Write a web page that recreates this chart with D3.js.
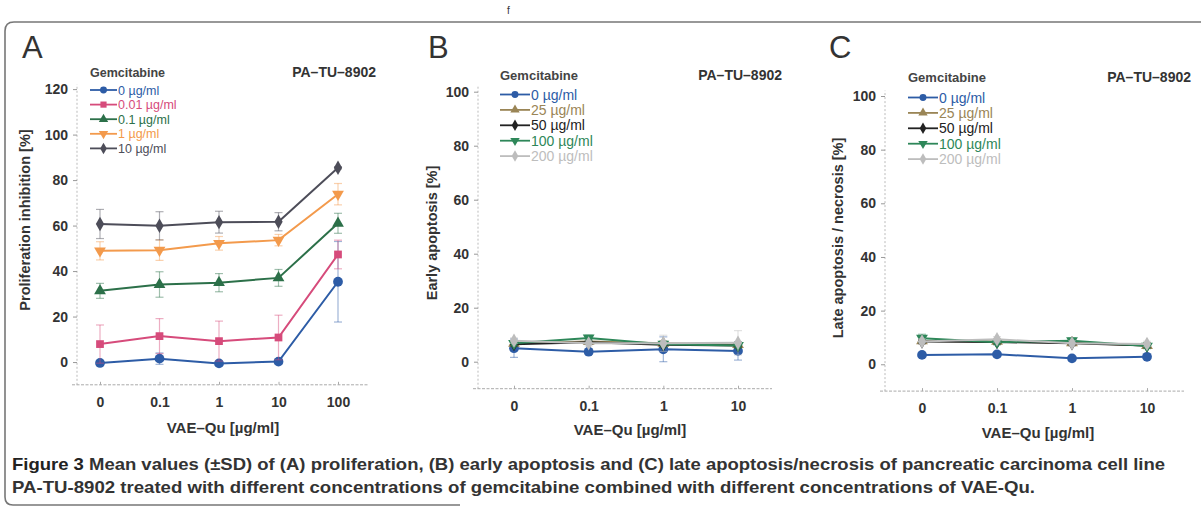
<!DOCTYPE html>
<html>
<head>
<meta charset="utf-8">
<script src="https://cdn.jsdelivr.net/npm/d3@7"></script>
<style>
  body { margin: 0; background: #fff; }
  svg { display: block; }
  text { font-family: "Liberation Sans", Arial, sans-serif; }
</style>
</head>
<body>
<div id="chart"></div>
<script>
// categories on the x axis (VAE-Qu concentration)
var catsA = ["0", "0.1", "1", "10", "100"];
var catsBC = ["0", "0.1", "1", "10"];

// panel A: proliferation inhibition [%], one series per gemcitabine dose
var labelsA = ["0 µg/ml", "0.01 µg/ml", "0.1 µg/ml", "1 µg/ml", "10 µg/ml"];
var meanA = [
  [-0.4, 1.5, -0.6, 0.2, 35.3],
  [7.9, 11.4, 9.2, 10.8, 47.3],
  [31.3, 34.1, 34.9, 37.0, 61.0],
  [48.9, 49.2, 52.2, 53.6, 73.8],
  [60.7, 59.9, 61.5, 61.7, 85.4]
];
var sdA = [
  [1.0, 2.5, 1.0, 1.0, 17.7],
  [8.4, 7.7, 8.8, 9.8, 6.3],
  [3.3, 5.6, 4.0, 3.7, 4.4],
  [4.0, 4.5, 3.0, 2.5, 4.7],
  [6.4, 6.2, 4.8, 4.0, 0.5]
];

// panels B and C: gemcitabine doses
var labelsBC = ["0 µg/ml", "25 µg/ml", "50 µg/ml", "100 µg/ml", "200 µg/ml"];
var meanB = [
  [5.0, 3.7, 4.6, 4.0],
  [6.8, 7.5, 6.8, 6.3],
  [6.5, 7.2, 6.3, 6.0],
  [6.8, 8.8, 6.5, 6.0],
  [7.8, 6.8, 6.8, 7.0]
];
var sdB = [
  [3.4, 1.0, 4.6, 3.4],
  [1.0, 1.0, 1.0, 1.0],
  [0.8, 0.8, 0.8, 0.8],
  [1.0, 1.0, 1.0, 1.0],
  [1.0, 1.0, 3.0, 4.5]
];
var meanC = [
  [3.5, 3.7, 2.2, 2.8],
  [8.7, 8.5, 8.0, 7.0],
  [8.5, 8.3, 7.8, 7.0],
  [9.7, 8.2, 8.8, 6.8],
  [8.5, 9.3, 7.8, 7.6]
];
var sdC = [
  [0.5, 0.5, 0.5, 0.5],
  [1.0, 1.0, 1.0, 1.0],
  [0.8, 0.8, 0.8, 0.8],
  [1.5, 1.0, 1.0, 1.0],
  [1.0, 1.0, 1.0, 1.0]
];

var ticksA = [0, 20, 40, 60, 80, 100, 120];
var ticksBC = [0, 20, 40, 60, 80, 100];

var W = 1201, H = 508;

var svg = d3.select("#chart").append("svg")
  .attr("width", W)
  .attr("height", H);

// frame of the scanned figure
svg.append("path")
  .attr("d", "M " + (W + 2) + " 22 H 14 Q 5 22 5 31 V 497 Q 5 505 13 505 H 460")
  .attr("fill", "none")
  .attr("stroke", "#777")
  .attr("stroke-width", 1.6);
svg.append("text").attr("x", 507).attr("y", 14)
  .attr("font-size", 10).attr("fill", "#333").text("f");

var colorsA = ["#2d5ca6", "#d64b7b", "#2c7049", "#f39a4c", "#4d4d59"];
var shapesA = [d3.symbolCircle, d3.symbolSquare, "up", "down", d3.symbolDiamond];
var colorsBC = ["#2d5ca6", "#9a8556", "#222222", "#2e8759", "#bdbdbd"];
var shapesBC = [d3.symbolCircle, "up", d3.symbolDiamond, "down", d3.symbolDiamond];

function markerPath(shape, size) {
  if (shape === "up") return d3.symbol(d3.symbolTriangle, size)();
  if (shape === "down") return d3.symbol(d3.symbolTriangle, size)();
  return d3.symbol(shape, size)();
}
function markerRot(shape) {
  return shape === "down" ? " rotate(180)" : "";
}

function drawPanel(cfg) {
  var g = svg.append("g");

  var x = d3.scalePoint().domain(cfg.cats).range(cfg.xr);
  var y = d3.scaleLinear().domain([-10, cfg.ymax]).range(cfg.yr);

  // panel letter
  g.append("text")
    .attr("x", cfg.letterX).attr("y", 58)
    .attr("font-size", 31).attr("fill", "#333")
    .text(cfg.letter);

  // faint axes
  g.append("line")
    .attr("x1", cfg.axisX).attr("x2", cfg.axisX)
    .attr("y1", y(-10)).attr("y2", y(cfg.yTop))
    .attr("stroke", "#bbb").attr("stroke-dasharray", "2,2");
  g.append("line")
    .attr("x1", cfg.axisX - 5).attr("x2", cfg.axisEnd)
    .attr("y1", y(-10)).attr("y2", y(-10))
    .attr("stroke", "#aaa").attr("stroke-dasharray", "3,1.5");

  var yAxis = g.append("g")
    .attr("transform", "translate(" + cfg.axisX + ",0)")
    .call(d3.axisLeft(y).tickValues(cfg.ticks).tickSize(4).tickPadding(5));
  yAxis.select(".domain").remove();
  yAxis.selectAll(".tick line").attr("stroke", "#999");
  yAxis.selectAll(".tick text")
    .attr("font-size", 14).attr("font-weight", "bold").attr("fill", "#333")
    .style("font-family", "Liberation Sans, Arial, sans-serif");

  var xAxis = g.append("g")
    .attr("transform", "translate(0," + y(-10) + ")")
    .call(d3.axisBottom(x).tickSize(-3).tickPadding(12));
  xAxis.select(".domain").remove();
  xAxis.selectAll(".tick line").attr("stroke", "#aaa");
  xAxis.selectAll(".tick text")
    .attr("font-size", 14).attr("font-weight", "bold").attr("fill", "#333")
    .style("font-family", "Liberation Sans, Arial, sans-serif");

  // axis titles
  g.append("text")
    .attr("transform", "translate(" + cfg.yTitleX + "," + cfg.yTitleY + ") rotate(-90)")
    .attr("text-anchor", "middle")
    .attr("font-size", 14.5).attr("font-weight", "bold").attr("fill", "#333")
    .text(cfg.yTitle);
  g.append("text")
    .attr("x", cfg.xTitleX).attr("y", cfg.xTitleY)
    .attr("text-anchor", "middle")
    .attr("font-size", 15).attr("font-weight", "bold").attr("fill", "#333")
    .text("VAE–Qu [µg/ml]");

  // series
  var line = d3.line()
    .x(function (d) { return x(d.c); })
    .y(function (d) { return y(d.v); });

  cfg.means.forEach(function (row, i) {
    var pts = row.map(function (v, j) {
      return { c: cfg.cats[j], v: v, sd: cfg.sds[i][j] };
    });
    var col = cfg.colors[i];
    var sg = g.append("g");

    // error bars
    pts.forEach(function (p) {
      var eb = sg.append("g").attr("stroke", col).attr("stroke-opacity", 0.45)
        .attr("stroke-width", 1.2);
      eb.append("line")
        .attr("x1", x(p.c)).attr("x2", x(p.c))
        .attr("y1", y(p.v - p.sd)).attr("y2", y(p.v + p.sd));
      [p.v - p.sd, p.v + p.sd].forEach(function (e) {
        eb.append("line")
          .attr("x1", x(p.c) - 4).attr("x2", x(p.c) + 4)
          .attr("y1", y(e)).attr("y2", y(e));
      });
    });

    sg.append("path")
      .datum(pts)
      .attr("d", line)
      .attr("fill", "none")
      .attr("stroke", col)
      .attr("stroke-width", 2);

    sg.selectAll("path.mk")
      .data(pts)
      .enter()
      .append("path")
      .attr("class", "mk")
      .attr("d", markerPath(cfg.shapes[i], cfg.shapes[i] === d3.symbolCircle ? 75 : 60))
      .attr("transform", function (d) {
        return "translate(" + x(d.c) + "," + y(d.v) + ")" + markerRot(cfg.shapes[i]);
      })
      .attr("fill", col);
  });

  // legend
  var lg = g.append("g");
  lg.append("text")
    .attr("x", cfg.legX).attr("y", cfg.legY)
    .attr("font-size", cfg.legHead).attr("font-weight", "bold").attr("fill", "#444")
    .text("Gemcitabine");
  cfg.labels.forEach(function (lab, i) {
    var ly = cfg.legY + cfg.legFirst + i * cfg.legStep;
    var col = cfg.colors[i];
    lg.append("line")
      .attr("x1", cfg.legX).attr("x2", cfg.legX + cfg.legLine)
      .attr("y1", ly).attr("y2", ly)
      .attr("stroke", col).attr("stroke-width", 1.8);
    lg.append("path")
      .attr("d", markerPath(cfg.shapes[i], 38))
      .attr("transform", "translate(" + (cfg.legX + cfg.legLine / 2) + "," + ly + ")" + markerRot(cfg.shapes[i]))
      .attr("fill", col);
    lg.append("text")
      .attr("x", cfg.legX + cfg.legLine + 1).attr("y", ly + cfg.legSize * 0.36)
      .attr("font-size", cfg.legSize).attr("fill", col)
      .text(lab);
  });

  g.append("text")
    .attr("x", cfg.cellX).attr("y", cfg.legY)
    .attr("text-anchor", "end")
    .attr("font-size", 14).attr("font-weight", "bold").attr("fill", "#333")
    .text("PA–TU–8902");
}

drawPanel({
  letter: "A", letterX: 22,
  cats: catsA, means: meanA, sds: sdA, labels: labelsA,
  colors: colorsA, shapes: shapesA,
  xr: [100, 338], ymax: 120, yTop: 122, yr: [384.8, 89.1], ticks: ticksA,
  axisX: 77, axisEnd: 368,
  yTitle: "Proliferation inhibition [%]", yTitleX: 30, yTitleY: 220,
  xTitleX: 223, xTitleY: 433,
  legX: 90, legY: 77, legFirst: 13, legStep: 14.6, legLine: 27, legSize: 12.5, legHead: 12.5,
  cellX: 376
});

drawPanel({
  letter: "B", letterX: 428,
  cats: catsBC, means: meanB, sds: sdB, labels: labelsBC,
  colors: colorsBC, shapes: shapesBC,
  xr: [514, 738], ymax: 100, yTop: 102, yr: [388.7, 91.7], ticks: ticksBC,
  axisX: 478, axisEnd: 772,
  yTitle: "Early apoptosis [%]", yTitleX: 437, yTitleY: 233,
  xTitleX: 630, xTitleY: 435,
  legX: 500, legY: 80, legFirst: 14.5, legStep: 15.4, legLine: 30, legSize: 14, legHead: 13,
  cellX: 782
});

drawPanel({
  letter: "C", letterX: 829,
  cats: catsBC, means: meanC, sds: sdC, labels: labelsBC,
  colors: colorsBC, shapes: shapesBC,
  xr: [922, 1147], ymax: 100, yTop: 102, yr: [391.1, 96.0], ticks: ticksBC,
  axisX: 885, axisEnd: 1184,
  yTitle: "Late apoptosis / necrosis [%]", yTitleX: 843, yTitleY: 238,
  xTitleX: 1038, xTitleY: 438,
  legX: 908, legY: 82, legFirst: 15.5, legStep: 15.4, legLine: 30, legSize: 14, legHead: 13,
  cellX: 1191
});

// caption
var cap = svg.append("g")
  .style("font-family", "'Liberation Sans Narrow', 'DejaVu Sans Condensed', sans-serif")
  .attr("fill", "#222");
var c1 = cap.append("text").attr("x", 12).attr("y", 470).attr("font-size", 16.5)
  .attr("textLength", 1153).attr("lengthAdjust", "spacingAndGlyphs");
c1.append("tspan").attr("font-weight", "bold").text("Figure 3 ");
c1.append("tspan").attr("font-weight", "bold").attr("fill", "#333")
  .text("Mean values (±SD) of (A) proliferation, (B) early apoptosis and (C) late apoptosis/necrosis of pancreatic carcinoma cell line");
cap.append("text").attr("x", 12).attr("y", 493).attr("font-size", 16.5)
  .attr("font-weight", "bold").attr("fill", "#333")
  .attr("textLength", 1023).attr("lengthAdjust", "spacingAndGlyphs")
  .text("PA-TU-8902 treated with different concentrations of gemcitabine combined with different concentrations of VAE-Qu.");
</script>
</body>
</html>
